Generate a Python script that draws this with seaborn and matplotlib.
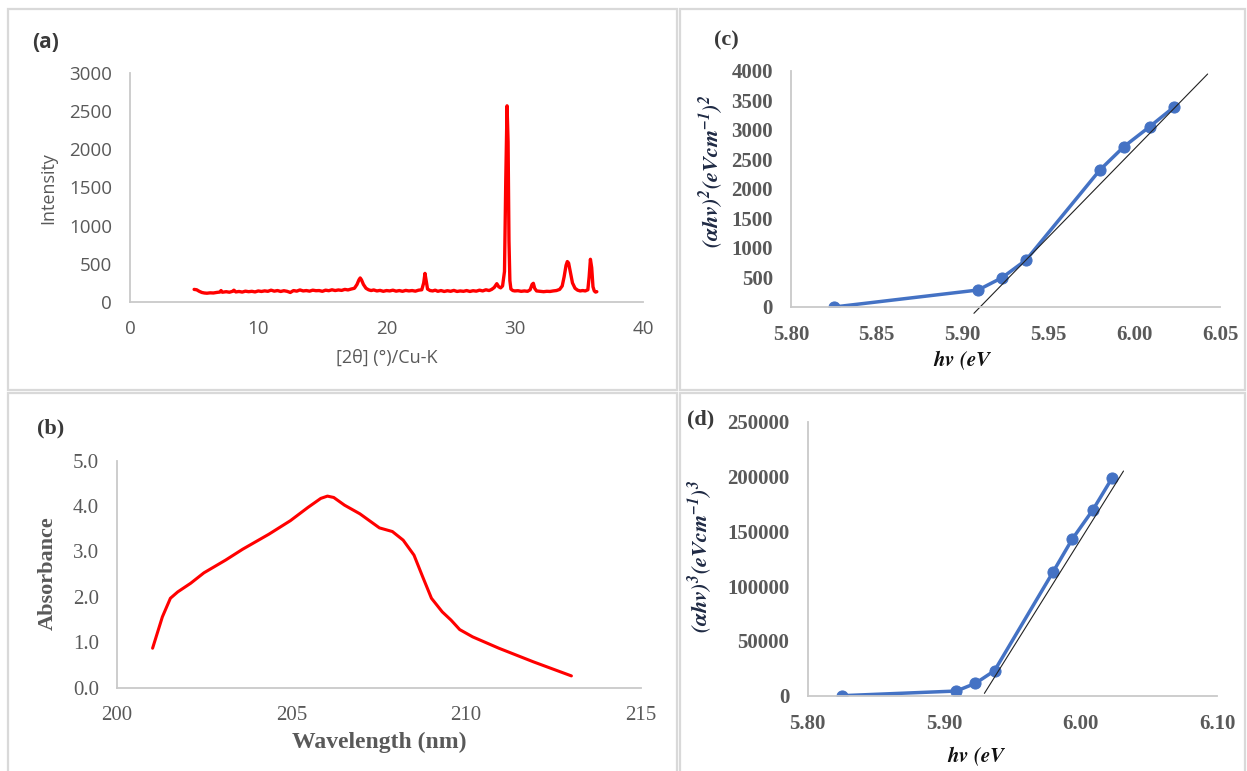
import numpy as np
import pandas as pd
import seaborn as sns
import matplotlib.pyplot as plt
from matplotlib.patches import Rectangle
from matplotlib.ticker import FormatStrFormatter

# ---- (a) XRD pattern ----
xrd_angle = [5.0, 5.2, 5.4, 5.6, 5.8, 6.0, 6.25, 6.5, 6.75, 7.0, 7.1, 7.2, 7.5, 7.75,
             8.0, 8.1, 8.25, 8.5, 8.75, 9.0, 9.25, 9.5, 9.75, 10.0, 10.25, 10.5, 10.75,
             11.0, 11.25, 11.5, 11.75, 12.0, 12.25, 12.5, 12.75, 13.0, 13.25, 13.5, 13.75,
             14.0, 14.25, 14.5, 14.75, 15.0, 15.25, 15.5, 15.75, 16.0, 16.25, 16.5, 16.75,
             17.0, 17.25, 17.5, 17.7, 17.85, 17.95, 18.05, 18.2, 18.4, 18.6, 18.8, 19.0,
             19.25, 19.5, 19.75, 20.0, 20.25, 20.5, 20.75, 21.0, 21.25, 21.5, 21.75, 22.0,
             22.25, 22.5, 22.75, 22.9, 23.0, 23.1, 23.2, 23.4, 23.6, 23.8, 24.0, 24.25,
             24.5, 24.75, 25.0, 25.25, 25.5, 25.75, 26.0, 26.25, 26.5, 26.75, 27.0, 27.25,
             27.5, 27.75, 28.0, 28.2, 28.4, 28.6, 28.75, 28.9, 29.05, 29.2, 29.3, 29.4,
             29.48, 29.55, 29.62, 29.7, 29.85, 30.0, 30.25, 30.5, 30.75, 31.0, 31.2, 31.35,
             31.45, 31.55, 31.7, 32.0, 32.25, 32.5, 32.75, 33.0, 33.25, 33.5, 33.7, 33.85,
             34.0, 34.1, 34.2, 34.35, 34.5, 34.7, 34.9, 35.1, 35.3, 35.5, 35.7, 35.8, 35.9,
             36.0, 36.1, 36.2, 36.3, 36.4]
xrd_intensity = [165, 160, 140, 125, 118, 115, 120, 118, 125, 130, 150, 128, 135, 128,
                 140, 155, 132, 138, 130, 142, 135, 140, 132, 145, 138, 146, 140,
                 155, 142, 150, 138, 148, 140, 125, 150, 142, 158, 145, 150,
                 142, 155, 148, 150, 140, 155, 148, 160, 150, 158, 152, 165,
                 158, 170, 180, 230, 290, 315, 290, 230, 180, 160, 150, 158,
                 145, 152, 140, 150, 145, 155, 142, 150, 140, 152, 145, 150,
                 142, 155, 160, 250, 375, 270, 170, 150, 145, 155, 140, 150,
                 138, 148, 140, 152, 138, 145, 140, 150, 138, 148, 142, 155,
                 145, 160, 150, 165, 190, 240, 200, 185, 210, 400, 1600, 2570,
                 2100, 800, 280, 170, 150, 145, 148, 140, 145, 140, 160, 230,
                 245, 180, 145, 140, 135, 140, 138, 145, 150, 165, 210, 330,
                 480, 530, 510, 380, 250, 180, 155, 145, 150, 145, 160, 330, 560,
                 450, 200, 145, 130, 135]

# ---- (b) UV absorbance ----
wavelength = [201.02, 201.30, 201.53, 201.74, 202.11, 202.49, 203.11, 203.60, 204.35,
              204.97, 205.47, 205.84, 206.03, 206.21, 206.52, 206.96, 207.52, 207.89,
              208.20, 208.51, 208.76, 209.01, 209.32, 209.57, 209.82, 210.19, 210.94,
              211.93, 213.02]
absorbance = [0.87, 1.56, 1.97, 2.11, 2.30, 2.53, 2.81, 3.05, 3.38,
              3.68, 3.97, 4.17, 4.22, 4.19, 4.02, 3.83, 3.52, 3.44,
              3.25, 2.92, 2.44, 1.97, 1.67, 1.49, 1.28, 1.12, 0.87,
              0.57, 0.26]

# ---- (c), (d) Tauc plots ----
hv = [5.825, 5.909, 5.923, 5.937, 5.980, 5.994, 6.009, 6.023]
ahv_sq = [0, 288, 497, 797, 2322, 2718, 3056, 3384]
ahv_cube = [0, 4258, 11253, 22810, 113139, 142944, 169404, 198297]
fit_c_x = [5.9066, 6.0428]
fit_c_y = [-107, 3949]
fit_d_x = [5.9296, 6.0315]
fit_d_y = [2129, 204988]

sns.set_theme(style="white")
plt.rcParams['mathtext.fontset'] = 'stix'

GRAY = "#595959"
SPINE = "#c9c9c9"
BLUE = "#4472C4"
W, H = 1247, 771

fig = plt.figure(figsize=(W / 100, H / 100), dpi=100)


def ax_at(left, right, top, bottom):
    return fig.add_axes([left / W, 1 - bottom / H, (right - left) / W, (bottom - top) / H])


def style(ax, font, weight, size=13):
    sns.despine(ax=ax)
    for s in ("left", "bottom"):
        ax.spines[s].set_color(SPINE)
        ax.spines[s].set_linewidth(1.3)
    ax.tick_params(length=0, pad=13, labelsize=size, colors=GRAY)
    for lab in ax.get_xticklabels() + ax.get_yticklabels():
        lab.set_family(font)
        lab.set_weight(weight)


# panel frames
for x0, y0, x1, y1 in [(8, 9, 677, 390), (680, 9, 1245, 390),
                       (8, 393, 677, 775), (680, 393, 1245, 775)]:
    fig.add_artist(Rectangle((x0 / W, 1 - y1 / H), (x1 - x0) / W, (y1 - y0) / H,
                             transform=fig.transFigure, fill=False,
                             edgecolor="#d9d9d9", lw=1.6))

# (a)
ax_a = ax_at(130, 643, 73, 302)
sns.lineplot(x=xrd_angle, y=xrd_intensity, ax=ax_a, color="#ff0000", lw=2.4,
             sort=False, estimator=None)
ax_a.set_xlim(0, 40)
ax_a.set_ylim(0, 3000)
ax_a.set_xticks(range(0, 41, 10))
ax_a.set_yticks(range(0, 3001, 500))
style(ax_a, "Open Sans", "normal", 13.5)
ax_a.set_ylabel("Intensity", family="Open Sans", size=13, color=GRAY, va="center")
ax_a.set_xlabel("[2θ] (°)/Cu-K", family="Open Sans", size=13, color=GRAY, va="center")
ax_a.yaxis.set_label_coords(-0.160, 0.498)
ax_a.xaxis.set_label_coords(0.501, -0.245)
fig.text(46 / W, 1 - 42 / H, "(a)", family="Open Sans", weight="bold", size=15,
         color="#3a3a3a", ha="center", va="center")

# (c)
ax_c = ax_at(791, 1220, 71, 307)
sns.lineplot(x=hv, y=ahv_sq, ax=ax_c, color=BLUE, lw=2.5, marker="o", ms=8,
             markeredgecolor=BLUE)
sns.lineplot(x=fit_c_x, y=fit_c_y, ax=ax_c, color="#222222", lw=0.8, clip_on=False)
ax_c.set_xlim(5.80, 6.05)
ax_c.set_ylim(0, 4000)
ax_c.set_xticks([5.80, 5.85, 5.90, 5.95, 6.00, 6.05])
ax_c.set_yticks(range(0, 4001, 500))
ax_c.xaxis.set_major_formatter(FormatStrFormatter("%.2f"))
style(ax_c, "Liberation Serif", "bold", 15)
ax_c.set_ylabel(r"$\mathbfit{(\alpha hv)^2(eVcm^{-1})^2}$", size=16, color="#1f2a44",
                va="center")
ax_c.set_xlabel(r"$\mathbfit{hv\ (eV}$", size=15, color="#111111", va="center")
ax_c.yaxis.set_label_coords(-0.186, 0.576)
ax_c.xaxis.set_label_coords(0.399, -0.225)
fig.text(726 / W, 1 - 40 / H, "(c)", family="Liberation Serif", weight="bold", size=16,
         color="#3a3a3a", ha="center", va="center")

# (b)
ax_b = ax_at(117, 640.5, 460.7, 687.7)
sns.lineplot(x=wavelength, y=absorbance, ax=ax_b, color="#ff0000", lw=2.2)
ax_b.set_xlim(200, 215)
ax_b.set_ylim(0, 5)
ax_b.set_xticks([200, 205, 210, 215])
ax_b.set_yticks(np.arange(0, 5.01, 1.0))
ax_b.yaxis.set_major_formatter(FormatStrFormatter("%.1f"))
style(ax_b, "Liberation Serif", "normal", 15)
ax_b.set_ylabel("Absorbance", family="Liberation Serif", weight="bold", size=16,
                color=GRAY, va="center")
ax_b.set_xlabel("Wavelength (nm)", family="Liberation Serif", weight="bold", size=17,
                color=GRAY, va="center")
ax_b.yaxis.set_label_coords(-0.132, 0.505)
ax_b.xaxis.set_label_coords(0.500, -0.239)
fig.text(51 / W, 1 - 428 / H, "(b)", family="Liberation Serif", weight="bold", size=16,
         color="#3a3a3a", ha="center", va="center")

# (d)
ax_d = ax_at(807.5, 1217, 421.7, 695.7)
sns.lineplot(x=hv, y=ahv_cube, ax=ax_d, color=BLUE, lw=2.5, marker="o", ms=8,
             markeredgecolor=BLUE)
sns.lineplot(x=fit_d_x, y=fit_d_y, ax=ax_d, color="#222222", lw=0.8, clip_on=False)
ax_d.set_xlim(5.80, 6.10)
ax_d.set_ylim(0, 250000)
ax_d.set_xticks([5.80, 5.90, 6.00, 6.10])
ax_d.set_yticks(range(0, 250001, 50000))
ax_d.xaxis.set_major_formatter(FormatStrFormatter("%.2f"))
style(ax_d, "Liberation Serif", "bold", 15)
ax_d.set_ylabel(r"$\mathbfit{(\alpha hv)^3(eVcm^{-1})^3}$", size=16, color="#1f2a44",
                va="center")
ax_d.set_xlabel(r"$\mathbfit{hv\ (eV}$", size=15, color="#111111", va="center")
ax_d.yaxis.set_label_coords(-0.262, 0.510)
ax_d.xaxis.set_label_coords(0.414, -0.220)
fig.text(701 / W, 1 - 419 / H, "(d)", family="Liberation Serif", weight="bold", size=16,
         color="#3a3a3a", ha="center", va="center")

fig.savefig("out.png", dpi=100)
